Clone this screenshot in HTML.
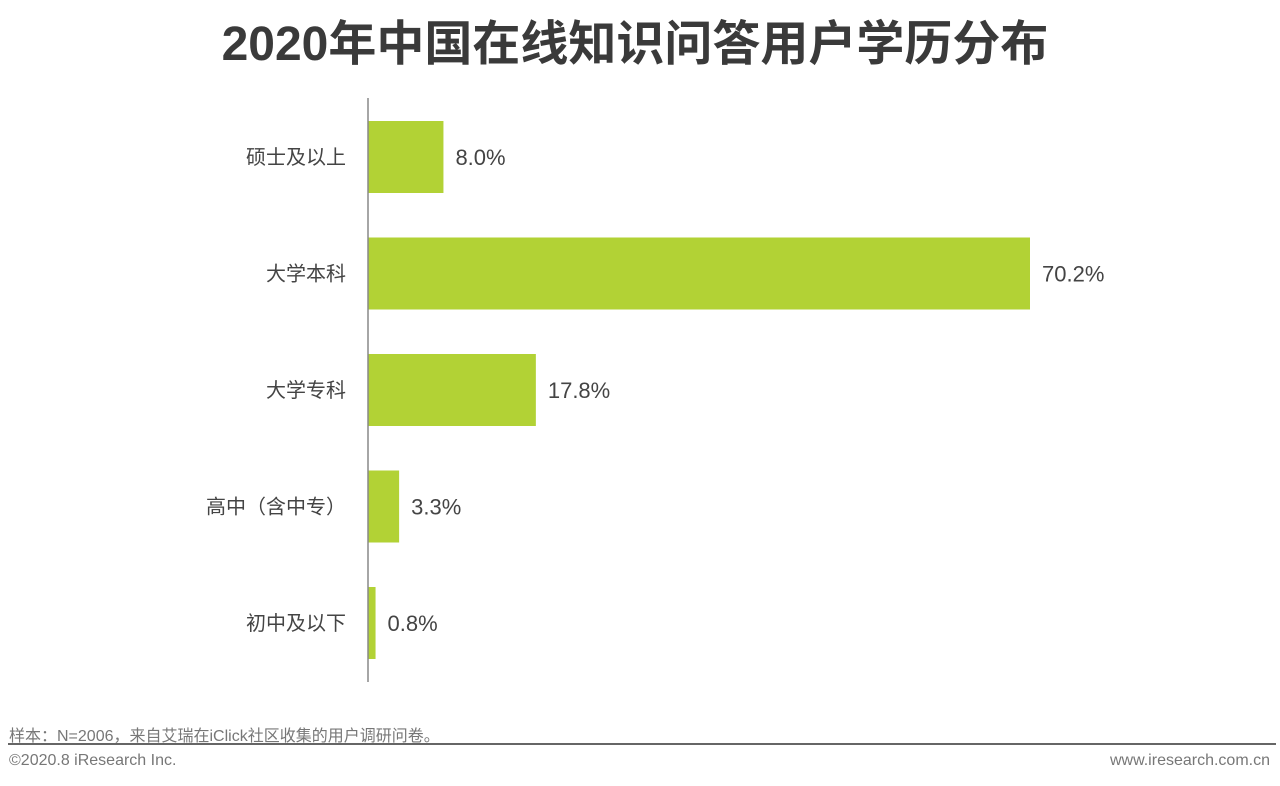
<!DOCTYPE html>
<html><head><meta charset="utf-8"><style>
body{margin:0;width:1280px;height:786px;background:#fff;overflow:hidden;position:relative;font-family:"Liberation Sans","Noto Sans CJK SC",sans-serif}
.t{position:absolute;white-space:nowrap}
</style></head><body>
<div class="t" style="left:0;width:1270px;text-align:center;top:16px;font-size:48px;font-weight:bold;color:#3a3a3a;line-height:58px">2020年中国在线知识问答用户学历分布</div>
<svg id="c" width="1280" height="700" style="position:absolute;left:0;top:0"></svg>
<div class="t" style="left:9px;top:722px;font-size:16px;color:#777">样本：N=2006，来自艾瑞在iClick社区收集的用户调研问卷。</div>
<div style="position:absolute;left:8px;top:743px;width:1268px;height:2px;background:#666"></div>
<div class="t" style="left:9px;top:752px;font-size:16px;color:#777">©2020.8 iResearch Inc.</div>
<div class="t" style="right:10px;top:752px;font-size:16px;color:#777">www.iresearch.com.cn</div>
<script>
const categories=["硕士及以上","大学本科","大学专科","高中（含中专）","初中及以下"];
const values=[8.0,70.2,17.8,3.3,0.8];
const labels=["8.0%","70.2%","17.8%","3.3%","0.8%"];
const svg=document.getElementById('c');const NS='http://www.w3.org/2000/svg';
const x0=368,scale=662/70.2;
const x=v=>x0+v*scale;
const y=i=>121+i*116.5;
const bh=72;
function mk(t,a){const e=document.createElementNS(NS,t);for(const k in a)e.setAttribute(k,a[k]);svg.appendChild(e);return e;}
categories.forEach((c,i)=>{
const r=mk('rect',{x:x0,y:y(i),width:x(values[i])-x0,height:bh,fill:'#b2d235'});


const l=mk('text',{x:x0-22,y:y(i)+bh/2+7,'text-anchor':'end','font-size':20,fill:'#444'});
l.textContent=c;


const v=mk('text',{x:x(values[i])+12,y:y(i)+bh/2+8,'font-size':22,fill:'#444'});
v.textContent=labels[i];


});
const ax=mk('line',{x1:x0,x2:x0,y1:98,y2:682,stroke:'#888','stroke-width':1.5});


</script>
</body></html>
